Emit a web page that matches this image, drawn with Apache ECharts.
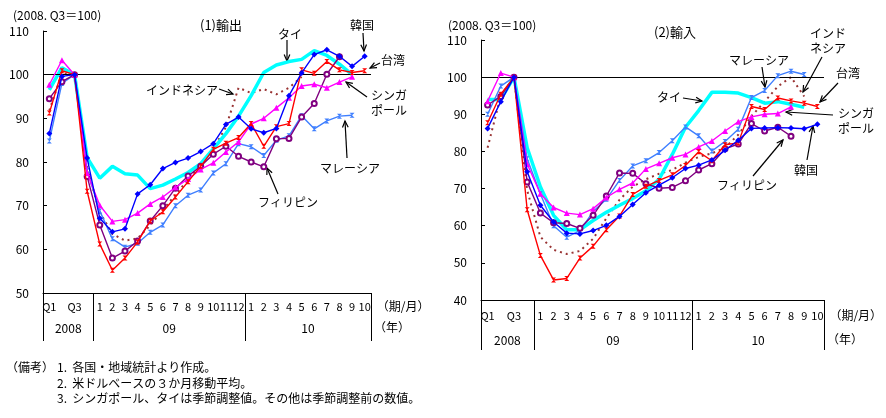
<!DOCTYPE html>
<html>
<head>
<meta charset="utf-8">
<script src="https://cdn.jsdelivr.net/npm/echarts@6/dist/echarts.min.js"></script>
<style>
  html, body { margin: 0; padding: 0; background: #fff; }
  #chart { width: 886px; height: 418px; }
</style>
</head>
<body>
<div id="chart"></div>
<script>
// x categories: 2008 quarters, 2009 months, 2010 months
const quarters08 = ["Q1", "", "Q3", ""];
const months09 = ["1", "2", "3", "4", "5", "6", "7", "8", "9", "10", "11", "12"];
const months10 = ["1", "2", "3", "4", "5", "6", "7", "8", "9", "10"];
const yearNames = ["2008", "09", "10"];

// (1) exports, 2008.Q3 = 100
const koreaExp = [86.5, 99.6, 100, 80.9, 67.1, 64.0, 64.7, 72.7, 74.8, 78.5, 79.9, 80.9, 82.4, 84.2, 88.6, 90.3, 87.6, 86.7, 87.7, 95.2, 100.4, 104.6, 105.7, 104.2, 101.9, 104.2];
const taiwanExp = [91.2, 100.9, 100, 73.3, 61.2, 55.2, 58.0, 61.7, 66.5, 68.6, 72.0, 75.5, 79.0, 82.9, 84.3, 85.6, 88.8, 83.6, 88.1, 88.8, 101.1, 100.3, 103.0, 101.1, 100.5, 100.9];
const thaiExp = [96.5, 101.6, 100, 81.0, 76.3, 79.0, 77.3, 77.0, 73.9, 74.7, 76.1, 77.6, 79.6, 83.0, 86.5, 90.5, 95.2, 100.5, 102.2, 103.0, 103.5, 105.5, 104.4, 102.4, 100.0, null];
const indoExp = [91.8, 100.3, 100, 78.5, 68.5, 63.5, 62.0, 62.5, 65.5, 69.0, 72.5, 76.0, 79.5, 83.0, 88.0, 97.0, 95.8, 96.7, 95.5, 97.0, 99.5, null, null, null, null, null];
const singExp = [97.7, 103.3, 100, 77.5, 70.1, 66.4, 66.8, 68.3, 70.4, 72.0, 74.2, 76.1, 78.3, 79.8, 82.3, 84.6, 88.7, 90.0, 92.4, 94.7, 97.4, 97.8, 97.0, 98.3, 99.5, null];
const malExp = [84.8, 98.0, 100, 78.0, 68.8, 62.4, 60.5, 61.4, 63.9, 65.6, 70.0, 72.4, 73.6, 77.5, 79.6, 84.2, 83.5, 81.5, 85.0, 86.0, 90.6, 87.6, 89.4, 90.5, 90.7, null];
const philExp = [94.5, 98.4, 100, 76.7, 65.6, 58.0, 59.6, 61.9, 66.5, 70.0, 74.0, 76.8, 79.0, 81.8, 83.6, 81.3, 80.0, 78.9, 85.3, 85.4, 90.3, 93.4, 100.1, 104.1, null, null];

// (2) imports, 2008.Q3 = 100
const koreaImp = [86.2, 93.4, 100, 74.5, 65.5, 61.0, 58.0, 57.8, 58.7, 60.1, 62.5, 65.7, 68.9, 70.9, 72.9, 75.4, 76.3, 77.7, 80.3, 83.0, 86.2, 86.3, 86.4, 86.3, 86.1, 87.3];
const taiwanImp = [87.7, 95.4, 100, 64.3, 52.0, 45.4, 45.8, 51.3, 54.5, 58.9, 62.6, 68.4, 70.6, 72.2, 73.7, 76.2, 79.9, 77.5, 81.8, 82.3, 92.1, 91.3, 94.4, 93.6, 93.0, 92.1];
const thaiImp = [94.0, 94.0, 100, 81.0, 70.5, 62.8, 58.9, 58.9, 61.4, 63.6, 65.5, 67.3, 69.4, 72.5, 79.2, 86.5, 91.0, 95.9, 95.9, 95.7, 94.5, 93.0, 93.4, 92.7, 91.9, null];
const indoImp = [81.0, 95.0, 100, 69.5, 57.0, 53.5, 52.4, 53.2, 56.5, 62.0, 67.0, 70.5, 72.5, 74.0, 75.0, 77.0, 78.5, 79.5, 81.0, 84.5, 89.5, 93.4, 97.5, 100.0, 94.8, null];
const singImp = [93.5, 101.1, 100, 76.6, 68.6, 64.9, 63.4, 63.0, 64.6, 67.6, 69.8, 71.5, 75.3, 76.8, 78.3, 79.2, 81.2, 82.8, 85.5, 88.0, 89.3, 90.0, 90.2, 92.0, null, null];
const malImp = [90.0, 97.6, 100, 78.0, 68.6, 60.0, 56.9, 58.7, 63.8, 67.1, 72.2, 76.1, 77.5, 79.7, 82.9, 86.6, 84.2, 80.1, 82.7, 86.0, 94.5, 96.4, 100.4, 101.6, 100.7, null];
const philImp = [92.5, 94.8, 100, 71.8, 63.4, 60.8, 60.6, 59.3, 62.8, 68.0, 74.2, 74.1, 71.3, 70.1, 70.3, 72.1, 75.0, 76.7, 80.7, 82.0, 87.5, 85.5, 86.5, 84.1, null, null];

const FONT = '"Noto Sans CJK JP", "Noto Sans", sans-serif';
const hourglass = "path://M0,0 L10,0 L0,10 L10,10 Z";

const periodLabels = [].concat(quarters08, months09, months10);
const groupSizes = [quarters08.length, months09.length, months10.length];
const groupStarts = [0, groupSizes[0], groupSizes[0] + groupSizes[1]];

// year labels sit on the boundary axis (n+1 slots), at the middle of each group
const yearSlots = new Array(periodLabels.length + 1).fill("");
groupSizes.reduce((start, size, k) => {
  yearSlots[start + size / 2] = yearNames[k];
  return start + size;
}, 0);

const styles = {
  "韓国": { color: "#0000ff", symbol: "diamond", size: 6, width: 1.4 },
  "台湾": { color: "#ff0000", symbol: hourglass, size: 5, width: 1.4 },
  "タイ": { color: "#00ffff", symbol: "none", size: 0, width: 3.5 },
  "インドネシア": { color: "#993333", symbol: "none", size: 0, width: 2, type: [2, 4] },
  "シンガポール": { color: "#ff00ff", symbol: "triangle", size: 6, width: 1.4 },
  "マレーシア": { color: "#3f7fff", symbol: hourglass, size: 5, width: 1.4 },
  "フィリピン": { color: "#800080", symbol: "emptyCircle", size: 5, width: 1.4 },
};

const panels = [
  {
    grid: { left: 43, top: 31, width: 328, height: 262 },
    min: 50, max: 110, tickLen: 48, labelMargin: 8, yearMargin: 29,
    series: { "インドネシア": indoExp, "タイ": thaiExp, "マレーシア": malExp, "フィリピン": philExp,
              "シンガポール": singExp, "台湾": taiwanExp, "韓国": koreaExp },
  },
  {
    grid: { left: 481, top: 40, width: 343, height: 260 },
    min: 40, max: 110, tickLen: 50, labelMargin: 10, yearMargin: 34,
    series: { "インドネシア": indoImp, "タイ": thaiImp, "マレーシア": malImp, "フィリピン": philImp,
              "シンガポール": singImp, "台湾": taiwanImp, "韓国": koreaImp },
  },
];

const xAxis = [];
const yAxis = [];
const series = [];

panels.forEach((p, g) => {
  xAxis.push({
    type: "category", gridIndex: g, position: "bottom", data: periodLabels, boundaryGap: true,
    axisLine: { show: true, lineStyle: { color: "#000", width: 1 } },
    axisTick: {
      show: true, alignWithLabel: false, inside: false,
      interval: (i) => groupStarts.includes(i), length: p.tickLen,
      lineStyle: { color: "#000", width: 1 },
    },
    axisLabel: { interval: 0, margin: p.labelMargin, fontSize: 11, color: "#000", fontFamily: FONT, hideOverlap: false },
    name: "（期/月）", nameLocation: "end", nameGap: 3,
    nameTextStyle: { fontSize: 12, color: "#000", fontFamily: FONT, verticalAlign: "top", padding: [p.labelMargin - 1, 0, 0, 0] },
  });
  xAxis.push({
    type: "category", gridIndex: g, position: "bottom", data: yearSlots, boundaryGap: false,
    axisLine: { show: false }, axisTick: { show: false },
    axisLabel: { interval: 0, margin: p.yearMargin, fontSize: 12, color: "#000", fontFamily: FONT },
    name: "（年）", nameLocation: "end", nameGap: 3,
    nameTextStyle: { fontSize: 12, color: "#000", fontFamily: FONT, verticalAlign: "top", padding: [p.yearMargin - 1, 0, 0, 0] },
  });
  yAxis.push({
    type: "value", gridIndex: g, min: p.min, max: p.max, interval: 10,
    axisLine: { show: true, lineStyle: { color: "#000", width: 1 } },
    axisTick: { show: true, inside: true, length: 4, lineStyle: { color: "#000" } },
    axisLabel: { margin: 14, fontSize: 12, color: "#000", fontFamily: FONT },
    splitLine: { show: false },
  });

  Object.keys(p.series).forEach((name, k) => {
    const s = styles[name];
    const item = {
      type: "line", name: name, xAxisIndex: g * 2, yAxisIndex: g,
      data: p.series[name],
      symbol: s.symbol, symbolSize: s.size, showSymbol: s.symbol !== "none",
      itemStyle: { color: s.color },
      lineStyle: { color: s.color, width: s.width, type: s.type || "solid" },
      emphasis: { disabled: true },
      z: 3 + k,
    };
    if (k === 0) {
      item.markLine = {
        silent: true, symbol: "none", label: { show: false },
        lineStyle: { color: "#000", width: 1.2, type: "solid" },
        data: [{ yAxis: 100 }],
      };
    }
    series.push(item);
  });
});

function text(str, x, y, opts) {
  opts = opts || {};
  return {
    type: "text", x: x, y: y, silent: true,
    style: {
      text: str, fill: "#000", fontFamily: FONT, fontSize: opts.size || 12,
      align: opts.align || "center", verticalAlign: "middle",
    },
  };
}

function arrow(x1, y1, x2, y2) {
  const a = Math.atan2(y2 - y1, x2 - x1);
  const h = 7, w = 0.42;
  return {
    type: "group", silent: true,
    children: [
      { type: "line", shape: { x1: x1, y1: y1, x2: x2, y2: y2 }, style: { stroke: "#000", lineWidth: 1.2 } },
      {
        type: "polyline",
        shape: { points: [
          [x2 - h * Math.cos(a - w), y2 - h * Math.sin(a - w)], [x2, y2],
          [x2 - h * Math.cos(a + w), y2 - h * Math.sin(a + w)],
        ] },
        style: { stroke: "#000", fill: null, lineWidth: 1.2 },
      },
    ],
  };
}

const graphic = [
  // left panel
  text("(2008. Q3＝100)", 13, 15, { align: "left" }),
  text("(1)輸出", 221, 25, { size: 13 }),
  text("タイ", 290, 34), arrow(287, 40, 287, 61),
  text("韓国", 362, 25), arrow(363, 33, 364, 51),
  text("台湾", 393, 60), arrow(380, 63, 370, 68),
  text("インドネシア", 182, 90), arrow(219, 89, 233, 94),
  text("シンガ", 389, 95), text("ポール", 389, 110), arrow(367, 97, 346, 82),
  text("マレーシア", 350, 168), arrow(347, 158, 345, 121),
  text("フィリピン", 288, 202), arrow(278, 194, 267, 168),
  // right panel
  text("(2008. Q3＝100)", 448, 25, { align: "left" }),
  text("(2)輸入", 675, 32, { size: 13 }),
  text("インド", 828, 33), text("ネシア", 828, 48), arrow(822, 57, 803, 92),
  text("台湾", 848, 73), arrow(838, 83, 820, 102),
  text("マレーシア", 759, 60), arrow(762, 67, 765, 87),
  text("タイ", 669, 97), arrow(683, 98, 702, 101),
  text("シンガ", 856, 113), text("ポール", 856, 128), arrow(833, 115, 786, 112),
  text("フィリピン", 747, 185), arrow(753, 176, 783, 140),
  text("韓国", 806, 170), arrow(807, 160, 813, 126),
  // notes
  text("（備考）", 6, 367, { align: "left" }),
  text("1.  各国・地域統計より作成。", 57, 367, { align: "left" }),
  text("2.  米ドルベースの３か月移動平均。", 57, 383, { align: "left" }),
  text("3.  シンガポール、タイは季節調整値。その他は季節調整前の数値。", 57, 398, { align: "left" }),
];

const chart = echarts.init(document.getElementById("chart"), null, { renderer: "canvas" });
chart.setOption({
  animation: false,
  backgroundColor: "#fff",
  textStyle: { fontFamily: FONT },
  grid: panels.map((p) => Object.assign({ containLabel: false }, p.grid)),
  xAxis: xAxis,
  yAxis: yAxis,
  series: series,
  graphic: graphic,
});
</script>
</body>
</html>
